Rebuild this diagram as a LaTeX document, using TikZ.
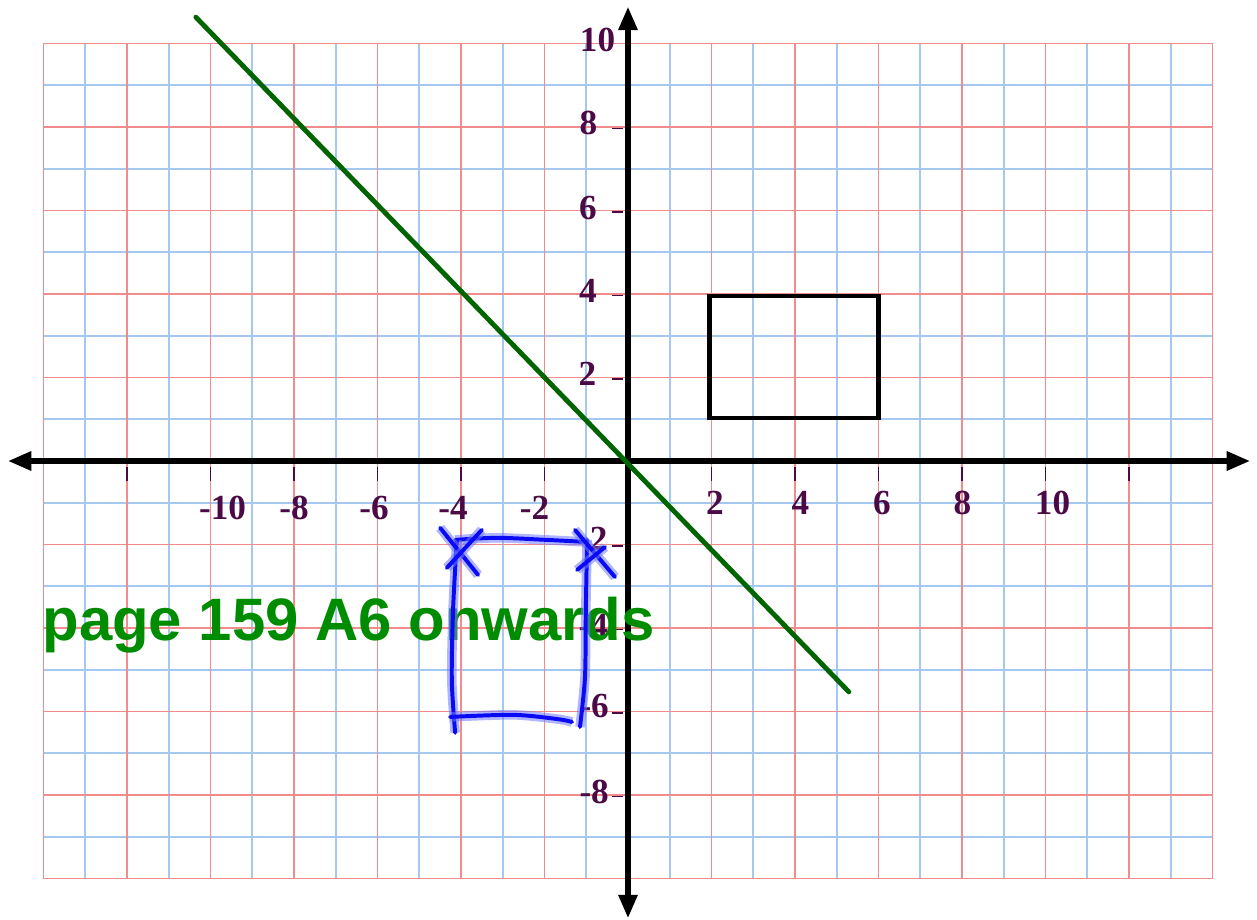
\documentclass[tikz,border=0pt]{standalone}
\usepackage{fontspec}
\setmainfont{Liberation Serif}
\newfontfamily\sansb{Liberation Sans}
\usetikzlibrary{arrows.meta}
\definecolor{gridred}{RGB}{240,140,140}
\definecolor{gridblue}{RGB}{165,200,240}
\definecolor{lab}{RGB}{75,10,70}
\definecolor{lgreen}{RGB}{0,100,0}
\definecolor{tgreen}{RGB}{0,140,0}
\definecolor{pencol}{RGB}{10,10,245}
\definecolor{halocol}{RGB}{110,120,255}
\begin{document}
\begin{tikzpicture}[
  gridb/.style={draw=gridblue, line width=1.2pt},
  gridr/.style={draw=gridred, line width=1.2pt},
  axisline/.style={line width=3.5pt, {Triangle[length=0.56cm,width=0.44cm]}-{Triangle[length=0.56cm,width=0.44cm]}},
  tickmark/.style={draw=lab, line width=1pt},
  numlab/.style={inner sep=0pt, text=lab, font=\bfseries\fontsize{24}{24}\selectfont},
  gline/.style={draw=lgreen, line width=3.3pt, line cap=round},
  rectline/.style={draw=black, line width=2.9pt},
  penline/.style={draw=pencol, line width=2.7pt, line cap=round, line join=round,
    preaction={draw=halocol, opacity=0.55, line width=6.5pt}},
]
\useasboundingbox (-15.042,-10.994) rectangle (15.066,11.042);
% grid
\foreach \x in {-13,-11,...,13} \draw[gridb] (\x,-10) -- (\x,10);
\foreach \y in {-9,-7,...,9} \draw[gridb] (-14,\y) -- (14,\y);
\foreach \x in {-14,-12,...,14} \draw[gridr] (\x,-10) -- (\x,10);
\foreach \y in {-10,-8,...,10} \draw[gridr] (-14,\y) -- (14,\y);
% ticks
\foreach \x in {-12,-10,-8,-6,-4,-2,2,4,6,8,10,12} \draw[tickmark] (\x,-0.15) -- (\x,-0.47);
\foreach \y in {-8,-6,-4,-2,2,4,6,8} \draw[tickmark] (-0.38,\y-0.04) -- (-0.12,\y-0.04);
% labels x
\node[numlab] (lxm10) at (-9.71,-1.13) {-10};
\node[numlab] (lxm8) at (-8.00,-1.13) {-8};
\node[numlab] (lxm6) at (-6.08,-1.13) {-6};
\node[numlab] (lxm4) at (-4.19,-1.13) {-4};
\node[numlab] (lxm2) at (-2.24,-1.13) {-2};
\node[numlab] (lx2) at (2.08,-1.0) {2};
\node[numlab] (lx4) at (4.13,-1.0) {4};
\node[numlab] (lx6) at (6.08,-1.0) {6};
\node[numlab] (lx8) at (8.01,-1.0) {8};
\node[numlab] (lx10) at (10.17,-1.0) {10};
% labels y
\node[numlab] (ly10) at (-0.73,10.08) {10};
\node[numlab] (ly8) at (-0.95,8.10) {8};
\node[numlab] (ly6) at (-0.96,6.06) {6};
\node[numlab] (ly4) at (-0.96,4.07) {4};
\node[numlab] (ly2) at (-0.97,2.08) {2};
\node[numlab] (lym2) at (-0.84,-1.86) {-2};
\node[numlab] (lym4) at (-0.83,-3.95) {-4};
\node[numlab] (lym6) at (-0.81,-5.87) {-6};
\node[numlab] (lym8) at (-0.81,-7.92) {-8};
% axes
\coordinate (xl) at (-14.85,0);
\coordinate (xr) at (14.9,0);
\coordinate (yt) at (0,10.88);
\coordinate (yb) at (0,-10.95);
\draw[axisline] (xl) -- (xr);
\draw[axisline] (yb) -- (yt);
% rectangle
\draw[rectline] (1.95,1.03) rectangle (6.0,3.95);
% green line
\coordinate (ga) at (-10.35,10.63);
\coordinate (gb) at (5.29,-5.53);
\draw[gline] (ga) -- (gb);
% text
\node[anchor=base west, inner sep=0pt, text=tgreen, font=\sansb\bfseries\fontsize{40.8}{40}\selectfont] (title) at (-14.03,-4.29) {page 159 A6 onwards};
% hand drawn blue rectangle
\draw[penline] plot[smooth] coordinates {(-4.14,-1.89) (-3.14,-1.84) (-1.94,-1.89) (-0.98,-1.94)};
\draw[penline] plot[smooth] coordinates {(-4.10,-1.89) (-4.19,-3.57) (-4.22,-5.25) (-4.14,-6.51)};
\draw[penline] plot[smooth] coordinates {(-4.26,-6.13) (-2.75,-6.08) (-1.70,-6.18) (-1.34,-6.25)};
\draw[penline] plot[smooth] coordinates {(-0.98,-1.89) (-1.01,-3.57) (-1.03,-5.17) (-1.15,-6.37)};
\draw[penline] (-4.50,-1.60) -- (-3.59,-2.73);
\draw[penline] (-3.50,-1.65) -- (-4.34,-2.56);
\draw[penline] (-1.27,-1.65) -- (-0.31,-2.78);
\draw[penline] (-1.22,-2.61) -- (-0.55,-2.06);
\end{tikzpicture}
\end{document}
